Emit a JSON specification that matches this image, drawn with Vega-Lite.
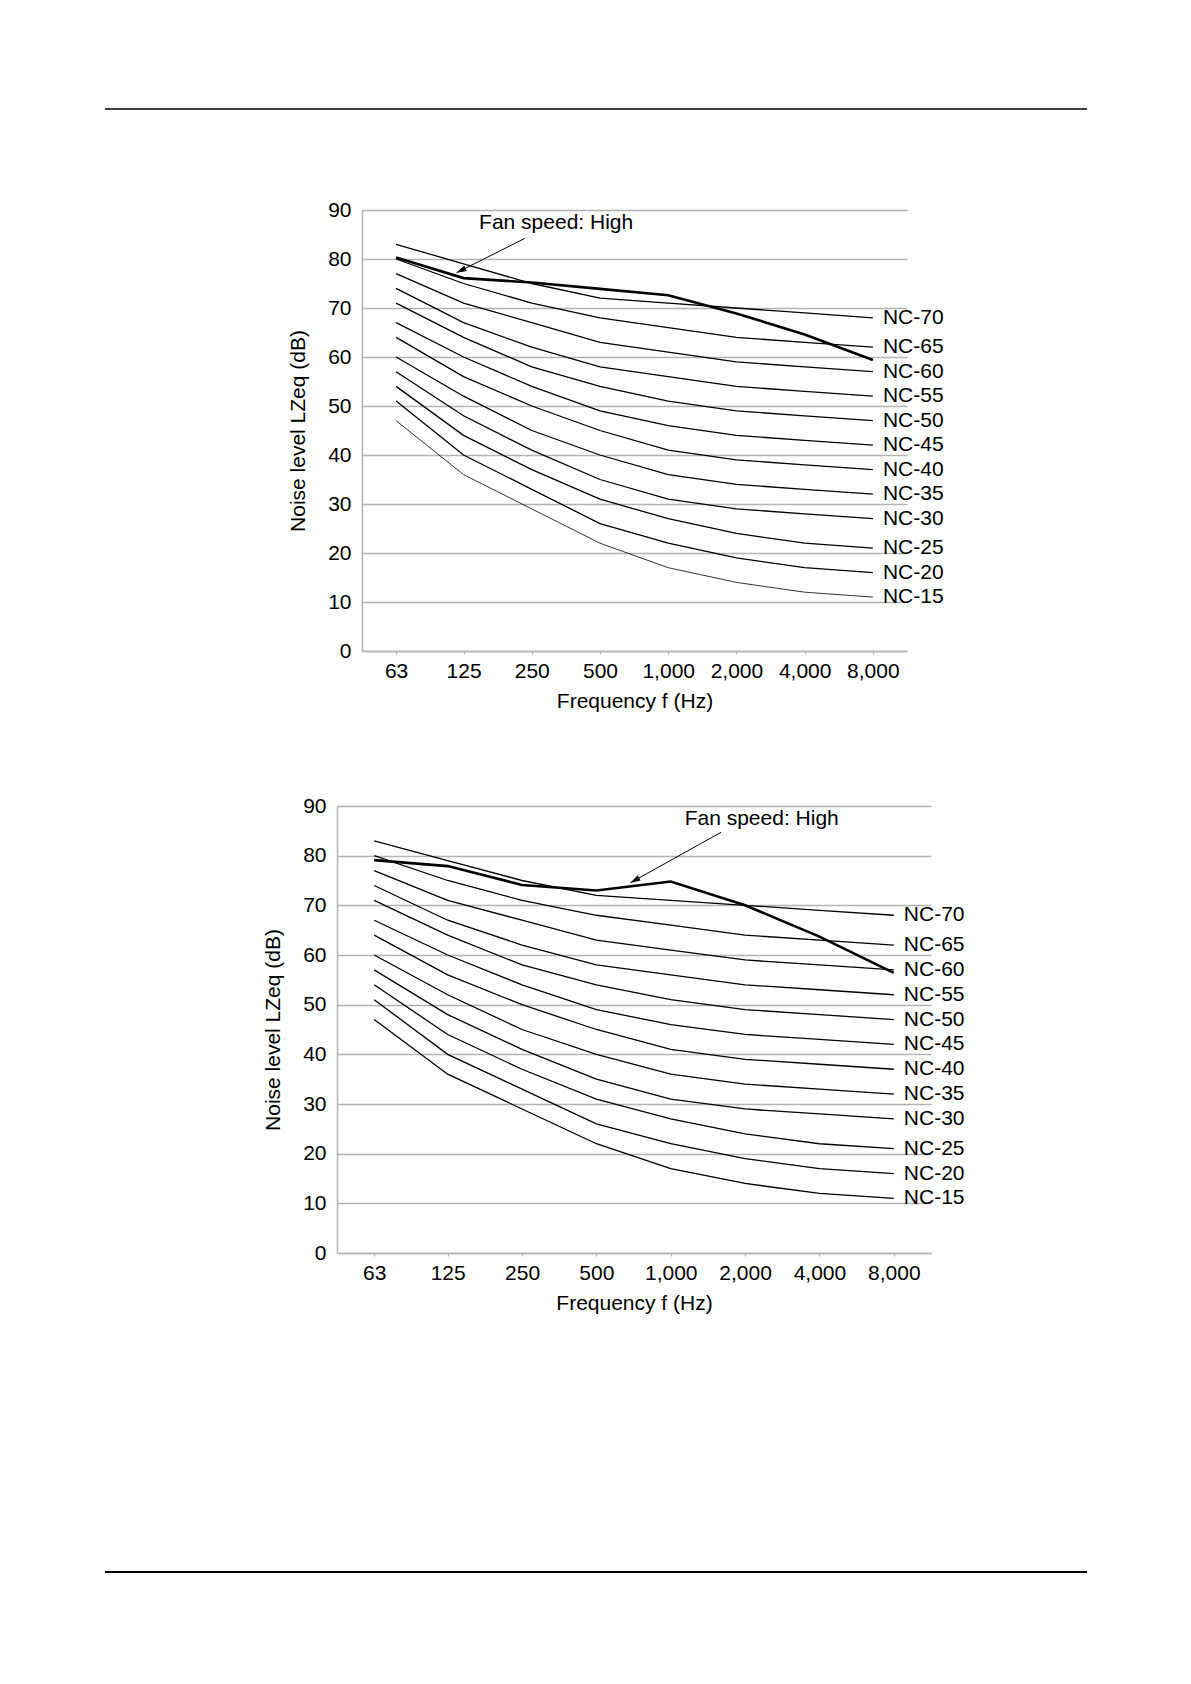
{
  "$schema": "https://vega.github.io/schema/vega-lite/v6.json",
  "background": "white",
  "padding": {"left": 104, "top": 108, "right": 0, "bottom": 0},
  "autosize": {"type": "pad"},
  "spacing": 84,
  "config": {
    "font": "Liberation Sans",
    "view": {"stroke": null},
    "axis": {
      "labelFont": "Liberation Sans", "labelFontSize": 21, "labelColor": "#000",
      "titleFont": "Liberation Sans", "titleFontSize": 21, "titleFontWeight": "normal", "titleColor": "#000",
      "gridColor": "#b4b4b4", "gridWidth": 1.5, "domainColor": "#b4b4b4", "domainWidth": 1.5,
      "tickColor": "#b4b4b4", "tickWidth": 1.2
    },
    "text": {"font": "Liberation Sans", "fontSize": 21, "color": "#000"}
  },
  "datasets": {
    "nc": [
      {"s":"NC-15","f":63,"l":47},{"s":"NC-15","f":125,"l":36},{"s":"NC-15","f":250,"l":29},{"s":"NC-15","f":500,"l":22},{"s":"NC-15","f":1000,"l":17},{"s":"NC-15","f":2000,"l":14},{"s":"NC-15","f":4000,"l":12},{"s":"NC-15","f":8000,"l":11},
      {"s":"NC-20","f":63,"l":51},{"s":"NC-20","f":125,"l":40},{"s":"NC-20","f":250,"l":33},{"s":"NC-20","f":500,"l":26},{"s":"NC-20","f":1000,"l":22},{"s":"NC-20","f":2000,"l":19},{"s":"NC-20","f":4000,"l":17},{"s":"NC-20","f":8000,"l":16},
      {"s":"NC-25","f":63,"l":54},{"s":"NC-25","f":125,"l":44},{"s":"NC-25","f":250,"l":37},{"s":"NC-25","f":500,"l":31},{"s":"NC-25","f":1000,"l":27},{"s":"NC-25","f":2000,"l":24},{"s":"NC-25","f":4000,"l":22},{"s":"NC-25","f":8000,"l":21},
      {"s":"NC-30","f":63,"l":57},{"s":"NC-30","f":125,"l":48},{"s":"NC-30","f":250,"l":41},{"s":"NC-30","f":500,"l":35},{"s":"NC-30","f":1000,"l":31},{"s":"NC-30","f":2000,"l":29},{"s":"NC-30","f":4000,"l":28},{"s":"NC-30","f":8000,"l":27},
      {"s":"NC-35","f":63,"l":60},{"s":"NC-35","f":125,"l":52},{"s":"NC-35","f":250,"l":45},{"s":"NC-35","f":500,"l":40},{"s":"NC-35","f":1000,"l":36},{"s":"NC-35","f":2000,"l":34},{"s":"NC-35","f":4000,"l":33},{"s":"NC-35","f":8000,"l":32},
      {"s":"NC-40","f":63,"l":64},{"s":"NC-40","f":125,"l":56},{"s":"NC-40","f":250,"l":50},{"s":"NC-40","f":500,"l":45},{"s":"NC-40","f":1000,"l":41},{"s":"NC-40","f":2000,"l":39},{"s":"NC-40","f":4000,"l":38},{"s":"NC-40","f":8000,"l":37},
      {"s":"NC-45","f":63,"l":67},{"s":"NC-45","f":125,"l":60},{"s":"NC-45","f":250,"l":54},{"s":"NC-45","f":500,"l":49},{"s":"NC-45","f":1000,"l":46},{"s":"NC-45","f":2000,"l":44},{"s":"NC-45","f":4000,"l":43},{"s":"NC-45","f":8000,"l":42},
      {"s":"NC-50","f":63,"l":71},{"s":"NC-50","f":125,"l":64},{"s":"NC-50","f":250,"l":58},{"s":"NC-50","f":500,"l":54},{"s":"NC-50","f":1000,"l":51},{"s":"NC-50","f":2000,"l":49},{"s":"NC-50","f":4000,"l":48},{"s":"NC-50","f":8000,"l":47},
      {"s":"NC-55","f":63,"l":74},{"s":"NC-55","f":125,"l":67},{"s":"NC-55","f":250,"l":62},{"s":"NC-55","f":500,"l":58},{"s":"NC-55","f":1000,"l":56},{"s":"NC-55","f":2000,"l":54},{"s":"NC-55","f":4000,"l":53},{"s":"NC-55","f":8000,"l":52},
      {"s":"NC-60","f":63,"l":77},{"s":"NC-60","f":125,"l":71},{"s":"NC-60","f":250,"l":67},{"s":"NC-60","f":500,"l":63},{"s":"NC-60","f":1000,"l":61},{"s":"NC-60","f":2000,"l":59},{"s":"NC-60","f":4000,"l":58},{"s":"NC-60","f":8000,"l":57},
      {"s":"NC-65","f":63,"l":80},{"s":"NC-65","f":125,"l":75},{"s":"NC-65","f":250,"l":71},{"s":"NC-65","f":500,"l":68},{"s":"NC-65","f":1000,"l":66},{"s":"NC-65","f":2000,"l":64},{"s":"NC-65","f":4000,"l":63},{"s":"NC-65","f":8000,"l":62},
      {"s":"NC-70","f":63,"l":83},{"s":"NC-70","f":125,"l":79},{"s":"NC-70","f":250,"l":75},{"s":"NC-70","f":500,"l":72},{"s":"NC-70","f":1000,"l":71},{"s":"NC-70","f":2000,"l":70},{"s":"NC-70","f":4000,"l":69},{"s":"NC-70","f":8000,"l":68}
    ],
    "fanTop": [
      {"f":63,"l":80.3},{"f":125,"l":76.1},{"f":250,"l":75.2},{"f":500,"l":73.9},{"f":1000,"l":72.6},{"f":2000,"l":68.9},{"f":4000,"l":64.6},{"f":8000,"l":59.4}
    ],
    "fanBottom": [
      {"f":63,"l":79.1},{"f":125,"l":77.9},{"f":250,"l":74.1},{"f":500,"l":73.0},{"f":1000,"l":74.8},{"f":2000,"l":70.0},{"f":4000,"l":63.7},{"f":8000,"l":56.4}
    ],
    "noteTop": [{"label":"Fan speed: High","f":146.4,"l":87.3,"f1":232.8,"l1":84.2,"f2":116.4,"l2":77.2}],
    "noteBottom": [{"label":"Fan speed: High","f":1138.6,"l":87.3,"f1":1598,"l1":84.7,"f2":686.6,"l2":74.55}]
  },
  "vconcat": [
    {
      "width": 982, "height": 6,
      "data": {"values": [{}]},
      "mark": {"type": "rule", "color": "#000", "strokeWidth": 1.3},
      "encoding": {"y": {"datum": 1, "type": "quantitative", "scale": {"domain": [0, 1]}, "axis": null}}
    },
    {
      "spacing": 0,
      "hconcat": [
        {"width": 182, "height": 10, "data": {"values": []}, "mark": "point"},
        {
          "width": 545, "height": 441,
          "encoding": {
            "x": {"field": "f", "type": "quantitative",
              "scale": {"type": "log", "domain": [44.55, 11314], "nice": false, "zero": false},
              "axis": {"values": [63,125,250,500,1000,2000,4000,8000], "format": ",", "grid": false, "ticks": true, "tickSize": 3,
                "labelPadding": 6, "labelFlush": false, "labelOverlap": false, "title": "Frequency f (Hz)", "titlePadding": 9}},
            "y": {"field": "l", "type": "quantitative", "scale": {"domain": [0, 90], "nice": false},
              "axis": {"values": [0,10,20,30,40,50,60,70,80,90], "grid": true, "ticks": false, "labelPadding": 11,
                "title": "Noise level LZeq (dB)", "titlePadding": 19}}
          },
          "layer": [
            {"data": {"name": "nc"}, "mark": {"type": "line", "color": "#000"},
             "encoding": {"detail": {"field": "s"},
               "strokeWidth": {"condition": {"test": "datum.s === 'NC-15'", "value": 0.8}, "value": 1.3}}},
            {"data": {"name": "fanTop"}, "mark": {"type": "line", "color": "#000", "strokeWidth": 2.6}},
            {"data": {"name": "nc"}, "transform": [{"filter": "datum.f === 8000"}],
             "mark": {"type": "text", "align": "left", "baseline": "middle", "dx": 10},
             "encoding": {"text": {"field": "s"}}},
            {"data": {"name": "noteTop"}, "mark": {"type": "text", "align": "left", "baseline": "middle"},
             "encoding": {"text": {"field": "label"}}},
            {"data": {"name": "noteTop"}, "mark": {"type": "rule", "color": "#000", "strokeWidth": 1},
             "encoding": {"x": {"field": "f1", "type": "quantitative"}, "y": {"field": "l1", "type": "quantitative"},
               "x2": {"field": "f2"}, "y2": {"field": "l2"}}},
            {"data": {"name": "noteTop"}, "mark": {"type": "point", "shape": "M0,0L0.6,2L-0.6,2Z", "filled": true, "color": "#000", "opacity": 1, "size": 100, "angle": 243.3},
             "encoding": {"x": {"field": "f2", "type": "quantitative"}, "y": {"field": "l2", "type": "quantitative"}}}
          ]
        }
      ]
    },
    {
      "spacing": 0,
      "hconcat": [
        {"width": 157, "height": 10, "data": {"values": []}, "mark": "point"},
        {
          "width": 594, "height": 447,
          "encoding": {
            "x": {"field": "f", "type": "quantitative",
              "scale": {"type": "log", "domain": [44.55, 11314], "nice": false, "zero": false},
              "axis": {"values": [63,125,250,500,1000,2000,4000,8000], "format": ",", "grid": false, "ticks": true, "tickSize": 3,
                "labelPadding": 6, "labelFlush": false, "labelOverlap": false, "title": "Frequency f (Hz)", "titlePadding": 9}},
            "y": {"field": "l", "type": "quantitative", "scale": {"domain": [0, 90], "nice": false},
              "axis": {"values": [0,10,20,30,40,50,60,70,80,90], "grid": true, "ticks": false, "labelPadding": 11,
                "title": "Noise level LZeq (dB)", "titlePadding": 19}}
          },
          "layer": [
            {"data": {"name": "nc"}, "mark": {"type": "line", "color": "#000", "strokeWidth": 1.3},
             "encoding": {"detail": {"field": "s"}}},
            {"data": {"name": "fanBottom"}, "mark": {"type": "line", "color": "#000", "strokeWidth": 2.6}},
            {"data": {"name": "nc"}, "transform": [{"filter": "datum.f === 8000"}],
             "mark": {"type": "text", "align": "left", "baseline": "middle", "dx": 10},
             "encoding": {"text": {"field": "s"}}},
            {"data": {"name": "noteBottom"}, "mark": {"type": "text", "align": "left", "baseline": "middle"},
             "encoding": {"text": {"field": "label"}}},
            {"data": {"name": "noteBottom"}, "mark": {"type": "rule", "color": "#000", "strokeWidth": 1},
             "encoding": {"x": {"field": "f1", "type": "quantitative"}, "y": {"field": "l1", "type": "quantitative"},
               "x2": {"field": "f2"}, "y2": {"field": "l2"}}},
            {"data": {"name": "noteBottom"}, "mark": {"type": "point", "shape": "M0,0L0.6,2L-0.6,2Z", "filled": true, "color": "#000", "opacity": 1, "size": 100, "angle": 240.9},
             "encoding": {"x": {"field": "f2", "type": "quantitative"}, "y": {"field": "l2", "type": "quantitative"}}}
          ]
        }
      ]
    },
    {
      "width": 982, "height": 175,
      "data": {"values": [{}]},
      "mark": {"type": "rule", "color": "#000", "strokeWidth": 2},
      "encoding": {"y": {"datum": 0, "type": "quantitative", "scale": {"domain": [0, 1]}, "axis": null}}
    }
  ]
}
